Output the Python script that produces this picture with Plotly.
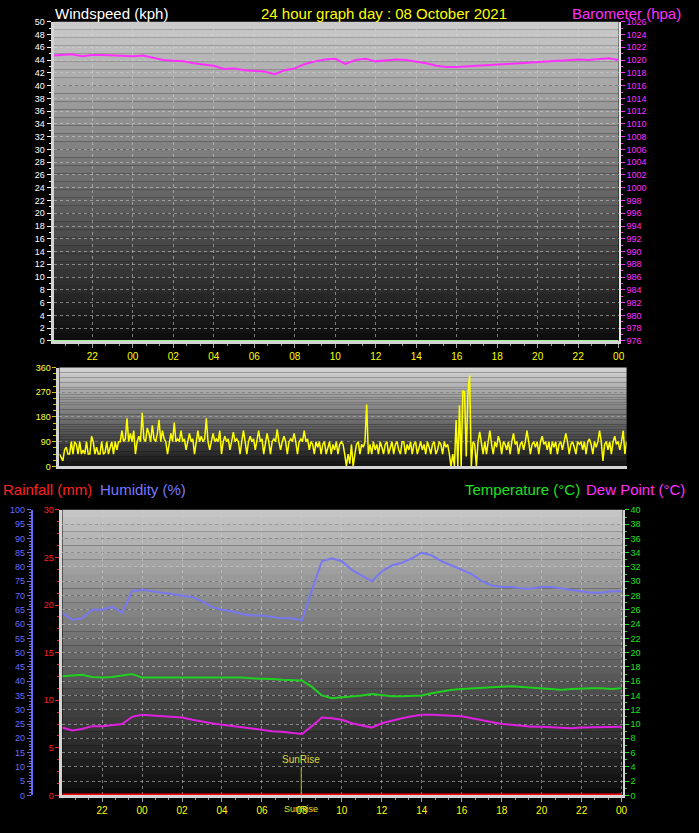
import pandas as pd
import plotly.graph_objects as go

# samples: half hourly for the slow series, 5 minutes for wind direction
times = pd.date_range("2021-10-07 20:00", "2021-10-09 00:00", freq="30min")
wind_times = pd.date_range("2021-10-07 20:00", "2021-10-09 00:00", freq="5min")
flat_times = ["2021-10-07 20:00", "2021-10-09 00:00"]
sunrise = "2021-10-08 07:58"

barometer = [1020.7, 1020.8, 1020.9, 1020.6, 1020.8, 1020.8, 1020.7, 1020.6, 1020.6, 1020.7,
             1020.3, 1020.0, 1019.9, 1019.8, 1019.5, 1019.3, 1019.1, 1018.6, 1018.7, 1018.4,
             1018.3, 1018.2, 1017.8, 1018.4, 1018.7, 1019.4, 1019.8, 1020.1, 1020.2, 1019.4,
             1020.0, 1020.2, 1019.8, 1020.0, 1020.1, 1020.0, 1019.8, 1019.5, 1019.1, 1018.9,
             1018.9, 1019.0, 1019.1, 1019.2, 1019.3, 1019.4, 1019.5, 1019.7, 1019.8, 1019.9,
             1019.9, 1020.0, 1020.1, 1020.0, 1020.1, 1020.3, 1020.0]
windspeed = [0, 0]
rainfall = [0, 0]

humidity = [64, 61.5, 62, 65, 65, 66, 64, 71.5, 72, 71.5,
            71, 70.5, 70, 69.5, 68, 66, 65, 64.5, 63.5, 63,
            63, 62.5, 62, 62, 61.3, 72, 82, 83, 82, 79,
            77, 75, 78.5, 80.5, 81.5, 83, 85, 84, 82, 80.5,
            79, 77.5, 75, 73.5, 73, 73, 72.5, 72.5, 73, 73,
            72.5, 72, 71.5, 71, 71, 71.5, 71.5]
temperature = [16.7, 16.8, 16.9, 16.6, 16.5, 16.6, 16.8, 17.0, 16.5, 16.5,
               16.6, 16.6, 16.6, 16.6, 16.6, 16.6, 16.6, 16.5, 16.5, 16.4,
               16.4, 16.3, 16.2, 16.1, 16.1, 15.2, 14.0, 13.6, 13.7, 13.9,
               14.0, 14.2, 14.0, 13.9, 13.9, 13.9, 14.0, 14.3, 14.6, 14.8,
               14.9, 15.0, 15.1, 15.2, 15.2, 15.3, 15.2, 15.1, 15.0, 14.9,
               14.8, 14.9, 15.0, 15.0, 15.0, 14.9, 15.0]
dew_point = [9.5, 9.1, 9.3, 9.7, 9.7, 9.8, 10.0, 11.0, 11.3, 11.2,
             11.1, 11.0, 10.9, 10.6, 10.3, 10.1, 9.9, 9.7, 9.5, 9.3,
             9.2, 9.0, 8.9, 8.7, 8.6, 9.7, 10.9, 10.8, 10.6, 10.1,
             9.8, 9.5, 10.1, 10.5, 10.8, 11.1, 11.3, 11.3, 11.2, 11.2,
             11.1, 10.8, 10.5, 10.2, 10.0, 9.9, 9.7, 9.6, 9.6, 9.5,
             9.4, 9.4, 9.5, 9.5, 9.6, 9.6, 9.6]

# wind direction (degrees), 20:00 .. 00:00 every 5 minutes
wind_dir = [
    # 20:00 - 22:55
    45, 30, 20, 60, 70, 45, 45, 90, 45, 90, 80, 45, 90, 45, 60, 45, 90, 45,
    45, 110, 90, 45, 70, 45, 45, 90, 45, 50, 90, 45, 70, 90, 45, 90, 60, 90,
    # 23:00 - 01:55
    90, 130, 90, 100, 175, 90, 120, 90, 130, 45, 90, 110, 90, 195, 100, 90, 140, 120,
    90, 150, 100, 90, 120, 170, 90, 130, 100, 90, 45, 90, 120, 90, 160, 90, 100, 90,
    # 02:00 - 04:55
    130, 90, 100, 60, 90, 120, 90, 100, 45, 90, 130, 90, 110, 90, 100, 175, 90, 60,
    90, 120, 90, 100, 90, 130, 45, 90, 110, 90, 100, 60, 90, 125, 90, 100, 90, 45,
    # 05:00 - 07:55
    90, 130, 90, 45, 90, 110, 90, 100, 60, 90, 130, 90, 100, 45, 90, 120, 90, 45,
    90, 100, 90, 135, 90, 60, 90, 110, 90, 45, 90, 100, 90, 120, 90, 45, 90, 100,
    # 08:00 - 09:55
    90, 130, 90, 100, 60, 90, 80, 45, 90, 70, 90, 45, 80, 90, 45, 70, 90, 45,
    80, 60, 90, 45, 80, 90,
    # 10:00 - 12:55
    80, 45, 0, 45, 10, 80, 0, 45, 80, 90, 45, 80, 70, 90, 225, 45, 80, 45,
    90, 60, 80, 45, 90, 70, 45, 80, 90, 45, 70, 90, 45, 80, 90, 60, 45, 90,
    # 13:00 - 15:15
    90, 45, 80, 60, 90, 45, 80, 90, 45, 70, 90, 60, 80, 45, 90, 70, 45, 80,
    90, 45, 60, 90, 80, 45, 90, 70, 80, 45,
    # 15:20 - 16:55
    0, 45, 0, 169, 0, 223, 0, 277, 270, 36, 266, 331, 0, 90, 80, 0, 90, 126, 90, 45,
    # 17:00 - 00:00
    90, 45, 90, 130, 80, 45, 90, 70, 110, 90, 45, 90, 80, 60, 90, 45, 90, 120, 80, 90,
    45, 80, 90, 60, 90, 130, 90, 45, 80, 90, 70, 90, 45, 90, 110, 80, 90, 60, 90, 45,
    90, 70, 90, 45, 80, 90, 60, 90, 120, 90, 45, 80, 90, 70, 45, 90, 80, 90, 60, 90,
    45, 90, 100, 80, 45, 90, 70, 90, 130, 90, 20, 80, 90, 60, 90, 45, 90, 110, 80, 90,
    60, 90, 130, 45, 90,
]

compass_vals = [0, 90, 180, 270, 360]
compass_text = ["N", "E", "S", "W", "N"]

W, H = 699, 833
def fx(p):
    return p / W
def fy(p):
    return 1 - p / H

FONT = "Liberation Sans, Arial, sans-serif"
GRID = "rgba(210,210,210,0.55)"
FRAME = "#d4d4d4"

fig = go.Figure()

# top panel
fig.add_trace(go.Scatter(x=flat_times, y=windspeed, mode="lines", line=dict(color="#a8f0a0", width=2),
                         xaxis="x", yaxis="y", hoverinfo="skip"))
fig.add_trace(go.Scatter(x=times, y=barometer, mode="lines", line=dict(color="#ff30ff", width=2),
                         xaxis="x", yaxis="y2"))
# wind direction
fig.add_trace(go.Scatter(x=wind_times, y=wind_dir, mode="lines", line=dict(color="#ffff00", width=1.5),
                         xaxis="x2", yaxis="y3"))
# bottom panel
fig.add_trace(go.Scatter(x=times, y=humidity, mode="lines", line=dict(color="#7878f0", width=2),
                         xaxis="x3", yaxis="y5"))
fig.add_trace(go.Scatter(x=times, y=temperature, mode="lines", line=dict(color="#20d020", width=2),
                         xaxis="x3", yaxis="y6"))
fig.add_trace(go.Scatter(x=times, y=dew_point, mode="lines", line=dict(color="#e020e0", width=2),
                         xaxis="x3", yaxis="y6"))
fig.add_trace(go.Scatter(x=flat_times, y=rainfall, mode="lines", line=dict(color="#ff0000", width=4),
                         xaxis="x3", yaxis="y4"))


def gradient(xr, yr, top, bottom, n=40):
    for k in range(n):
        f = (k + 0.5) / n
        g = int(bottom + (top - bottom) * f)
        fig.add_shape(type="rect", xref=xr + " domain", yref=yr + " domain",
                      x0=0, x1=1, y0=k / n, y1=(k + 1) / n,
                      fillcolor=f"rgb({g},{g},{g})", line=dict(width=0), layer="below")

gradient("x", "y", 205, 12)
gradient("x2", "y3", 215, 18)
gradient("x3", "y4", 200, 10)

hour_axis = dict(type="date", tickformat="%H", dtick=7200000, tick0="2021-10-07 00:00",
                 tickfont=dict(color="#ffff00", size=10, family=FONT),
                 showgrid=True, gridcolor=GRID, griddash="dot", gridwidth=1,
                 showline=True, linecolor=FRAME, linewidth=3,
                 ticks="outside", ticklen=4, tickcolor="#a0a0a0",
                 minor=dict(dtick=2400000, ticks="outside", ticklen=2, tickcolor="#a0a0a0"),
                 zeroline=False, fixedrange=True)

fig.update_layout(
    width=W, height=H, autosize=False,
    margin=dict(l=0, r=0, t=0, b=0),
    paper_bgcolor="black", plot_bgcolor="black",
    showlegend=False,
    font=dict(family=FONT, color="white"),
    xaxis=dict(hour_axis, domain=[fx(54), fx(624)], anchor="y",
               range=["2021-10-07 20:05", "2021-10-09 00:00"]),
    yaxis=dict(domain=[fy(340), fy(17)], range=[0, 50], dtick=2, anchor="x",
               tickfont=dict(color="white", size=9, family=FONT),
               showgrid=True, gridcolor=GRID, griddash="dot",
               showline=True, linecolor=FRAME, linewidth=3,
               ticks="outside", ticklen=4, tickcolor="white",
               minor=dict(dtick=1, ticks="outside", ticklen=2, tickcolor="white"),
               zeroline=False),
    yaxis2=dict(overlaying="y", side="right", anchor="x", range=[976, 1026], dtick=2,
                tickfont=dict(color="#ff30ff", size=9, family=FONT),
                showgrid=False, showline=True, linecolor="#e8e8e8", linewidth=2,
                ticks="outside", ticklen=4, tickcolor="#ff30ff",
                minor=dict(dtick=1, ticks="outside", ticklen=2, tickcolor="#ff30ff"),
                zeroline=False),
    xaxis2=dict(type="date", domain=[fx(60), fx(632)], anchor="y3",
                range=["2021-10-07 20:00", "2021-10-09 00:00"],
                showticklabels=False, showgrid=False, showline=True, linecolor=FRAME,
                linewidth=3, ticks="", zeroline=False),
    yaxis3=dict(domain=[fy(467), fy(367)], range=[0, 360], tickvals=compass_vals, anchor="x2",
                tickfont=dict(color="#ffff40", size=9, family=FONT),
                showgrid=True, gridcolor="rgba(220,220,220,0.35)", griddash="dot",
                showline=True, linecolor=FRAME, linewidth=3,
                ticks="outside", ticklen=4, tickcolor="#c8c800",
                minor=dict(dtick=22.5, ticks="outside", ticklen=3, tickcolor="#c8c800"),
                zeroline=False),
    yaxis7=dict(overlaying="y3", side="right", anchor="free", position=fx(649),
                range=[0, 360], tickvals=compass_vals, ticktext=compass_text,
                tickfont=dict(color="#ffff00", size=15, family=FONT),
                showgrid=False, showline=False, ticks="", zeroline=False),
    xaxis3=dict(hour_axis, domain=[fx(63), fx(628)], anchor="y4",
                range=["2021-10-07 20:01", "2021-10-09 00:03"]),
    yaxis4=dict(domain=[fy(800), fy(511)], range=[0, 30], dtick=5, anchor="x3",
                tickfont=dict(color="#ff2020", size=9, family=FONT),
                showgrid=False, showline=True, linecolor=FRAME, linewidth=3,
                ticks="outside", ticklen=4, tickcolor="#ff2020",
                minor=dict(dtick=1.25, ticks="outside", ticklen=2, tickcolor="#ff2020"),
                zeroline=False),
    yaxis5=dict(overlaying="y4", side="left", anchor="free", position=fx(32),
                range=[0, 100], dtick=5,
                tickfont=dict(color="#6a6af8", size=9, family=FONT),
                showgrid=False, showline=True, linecolor="#6a6af0", linewidth=2,
                ticks="outside", ticklen=4, tickcolor="#6a6af0",
                minor=dict(dtick=1, ticks="outside", ticklen=2, tickcolor="#6a6af0"),
                zeroline=False),
    yaxis6=dict(overlaying="y4", side="right", anchor="x3", range=[0, 40], dtick=2,
                tickfont=dict(color="#20e020", size=9, family=FONT),
                showgrid=True, gridcolor=GRID, griddash="dot",
                showline=True, linecolor=FRAME, linewidth=2,
                ticks="outside", ticklen=4, tickcolor="#20e020",
                minor=dict(dtick=1, ticks="outside", ticklen=2, tickcolor="#20e020"),
                zeroline=False),
)

# sunrise marker
fig.add_shape(type="line", xref="x3", yref="y4 domain", x0=sunrise, x1=sunrise, y0=0, y1=0.1,
              line=dict(color="#b8b800", width=1))
fig.add_annotation(x=sunrise, xref="x3", y=0.1, yref="y4 domain", text="SunRise", showarrow=False,
                   yanchor="bottom", font=dict(color="#d8d840", size=10, family=FONT))
fig.add_annotation(x=sunrise, xref="x3", y=fy(814), yref="paper", text="SunRise", showarrow=False,
                   xanchor="center", yanchor="middle", font=dict(color="#e0e020", size=9, family=FONT))

titles = [
    ("Windspeed (kph)", fx(53), fy(9), "left", "white"),
    ("24 hour graph day : 08 October 2021", fx(387), fy(9), "center", "#ffff00"),
    ("Barometer (hpa)", fx(689), fy(9), "right", "#ff30ff"),
    ("Rainfall (mm)", fx(1), fy(490), "left", "#ff2020"),
    ("Humidity (%)", fx(99), fy(490), "left", "#7878ff"),
    ("Temperature (°C)", fx(467), fy(490), "left", "#20e020"),
    ("Dew Point (°C)", fx(589), fy(490), "left", "#ff30ff"),
]
for text, x, y, anchor, color in titles:
    fig.add_annotation(x=x, y=y, xref="paper", yref="paper", text=text, showarrow=False,
                       xanchor=anchor, yanchor="middle", font=dict(color=color, size=15, family=FONT))

# drop the default page margin so the figure sits at the window's corner
fig.write_html("out.html", config={"displayModeBar": False},
               post_script="document.body.style.margin='0px';")
